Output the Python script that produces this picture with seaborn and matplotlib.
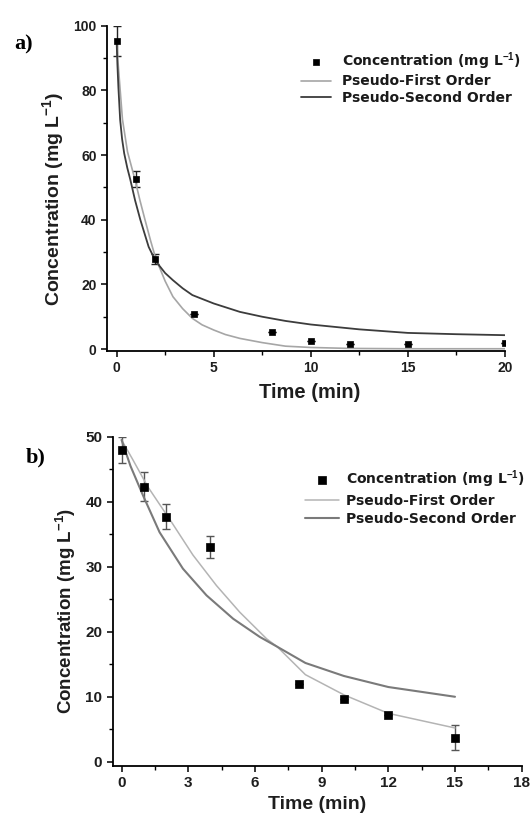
import numpy as np
import pandas as pd
import seaborn as sns
import matplotlib
matplotlib.use("Agg")
import matplotlib.pyplot as plt
from matplotlib import font_manager

# panel a data
t_a = [0, 1, 2, 4, 8, 10, 12, 15, 20]
conc_a = [95.3, 52.5, 27.8, 10.8, 5.3, 2.4, 1.6, 1.6, 1.9]
err_a = [4.6, 2.5, 1.5, 0, 0, 0, 0, 0, 0]

t_pfo_a = [0, 0.08, 0.17, 0.3, 0.56, 0.94, 1.2, 1.46, 1.75, 2.0, 2.5, 2.9, 3.4, 3.9, 4.4,
           5.0, 5.6, 6.35, 7.5, 8.7, 10, 12, 15, 20]
pfo_a = [95, 88, 81, 71, 61, 52.5, 46, 40, 33.5, 28.3, 21, 16.2, 12.5, 9.5, 7.5,
         5.9, 4.5, 3.3, 2.0, 0.9, 0.5, 0.2, 0.1, 0.1]
t_pso_a = [0, 0.04, 0.09, 0.18, 0.28, 0.39, 0.55, 0.7, 0.95, 1.22, 1.45, 1.65, 2.0, 2.5,
           2.9, 3.4, 3.9, 5.0, 6.35, 7.5, 8.7, 10, 12.5, 15, 17.5, 20]
pso_a = [95, 88, 81, 71, 65, 60.5, 56, 52.5, 46, 40, 35.5, 31.6, 27.3, 23.5,
         21.3, 18.8, 16.7, 14.1, 11.5, 10.0, 8.7, 7.6, 6.1, 5.0, 4.6, 4.3]

# panel b data
t_b = [0, 1, 2, 4, 8, 10, 12, 15]
conc_b = [48.0, 42.3, 37.7, 33.0, 12.0, 9.6, 7.2, 3.7]
err_b = [2.0, 2.2, 1.9, 1.7, 0, 0, 0, 1.9]

t_pfo_b = [0, 0.5, 1.18, 2.24, 3.21, 4.27, 5.32, 6.53, 7.0, 8.27, 10, 12, 15]
pfo_b = [49.5, 46.5, 42.3, 36.9, 31.8, 27.1, 23.0, 18.9, 17.7, 13.4, 10.3, 7.45, 5.2]
t_pso_b = [0, 0.4, 0.96, 1.71, 2.76, 3.82, 5.02, 6.22, 7.0, 8.27, 10, 12, 15]
pso_b = [49.5, 45.5, 41.0, 35.3, 29.7, 25.6, 22.0, 19.2, 17.7, 15.2, 13.2, 11.5, 10.0]

lbl_pts = "Concentration (mg L$^{-1}$)"
lbl_pfo = "Pseudo-First Order"
lbl_pso = "Pseudo-Second Order"

sns.set_theme(style="ticks")
names = {f.name for f in font_manager.fontManager.ttflist}
sans = "Liberation Sans Narrow" if "Liberation Sans Narrow" in names else "Liberation Sans"
plt.rcParams["font.family"] = [sans, "DejaVu Sans"]
plt.rcParams["mathtext.fontset"] = "custom"
plt.rcParams["mathtext.rm"] = sans
plt.rcParams["mathtext.bf"] = sans + ":bold"
plt.rcParams["mathtext.default"] = "bf"

txt = "#1e1e1e"

fig = plt.figure(figsize=(5.32, 8.15), dpi=100)
ax1 = fig.add_axes([0.201, 0.5697, 0.748, 0.3988])
ax2 = fig.add_axes([0.2118, 0.0605, 0.7688, 0.4037])


def draw(ax, t, c, err, tf, f, ts, s, cf, cs, lwf, lws, ms, ecol):
    ax.errorbar(t, c, yerr=err, fmt="none", ecolor=ecol, elinewidth=1.0,
                capsize=3.2, capthick=1.0, zorder=2)
    sns.lineplot(x=tf, y=f, ax=ax, color=cf, lw=lwf, label=lbl_pfo, zorder=3)
    sns.lineplot(x=ts, y=s, ax=ax, color=cs, lw=lws, label=lbl_pso, zorder=3)
    sns.scatterplot(x=t, y=c, ax=ax, marker="s", s=ms, color="black",
                    edgecolor="black", linewidth=0.5, label=lbl_pts, zorder=4)
    sns.despine(ax=ax)
    for sp in ["left", "bottom"]:
        ax.spines[sp].set_linewidth(1.3)
        ax.spines[sp].set_color("black")


draw(ax1, t_a, conc_a, err_a, t_pfo_a, pfo_a, t_pso_a, pso_a,
     "#a6a6a6", "#3c3c3c", 1.2, 1.3, 24, "#222222")
draw(ax2, t_b, conc_b, err_b, t_pfo_b, pfo_b, t_pso_b, pso_b,
     "#b4b4b4", "#7a7a7a", 1.1, 1.5, 28, "#555555")

# axes a
ax1.set_xlim(-0.5, 20)
ax1.set_ylim(-0.5, 100)
ax1.set_xticks([0, 5, 10, 15, 20])
ax1.set_xticks(np.arange(2.5, 20, 5), minor=True)
ax1.set_yticks([0, 20, 40, 60, 80, 100])
ax1.set_yticks(np.arange(10, 100, 20), minor=True)

# axes b
ax2.set_xlim(-0.4, 18)
ax2.set_ylim(-0.6, 50)
ax2.set_xticks([0, 3, 6, 9, 12, 15, 18])
ax2.set_xticks(np.arange(1.5, 18, 3), minor=True)
ax2.set_yticks([0, 10, 20, 30, 40, 50])
ax2.set_yticks(np.arange(5, 50, 10), minor=True)

for ax, fs in [(ax1, 10), (ax2, 11)]:
    ax.tick_params(which="major", direction="out", length=4.5, width=1.1,
                   pad=3, colors="black", labelcolor=txt, labelsize=fs)
    ax.tick_params(which="minor", direction="out", length=3, width=1.0,
                   colors="black")
    for lab in ax.get_xticklabels() + ax.get_yticklabels():
        lab.set_fontweight("bold")

ax1.set_xlabel("Time (min)", fontsize=14.5, fontweight="bold", color=txt)
ax1.set_ylabel(lbl_pts, fontsize=14, fontweight="bold", color=txt)
ax1.xaxis.set_label_coords(0.51, -0.098)
ax1.yaxis.set_label_coords(-0.104, 0.467)

ax2.set_xlabel("Time (min)", fontsize=14, fontweight="bold", color=txt)
ax2.set_ylabel(lbl_pts, fontsize=13.5, fontweight="bold", color=txt)
ax2.xaxis.set_label_coords(0.5, -0.093)
ax2.yaxis.set_label_coords(-0.085, 0.47)


def legend(ax, x, y, hl, pad, sp):
    h, l = ax.get_legend_handles_labels()
    order = [l.index(lbl_pts), l.index(lbl_pfo), l.index(lbl_pso)]
    ax.legend([h[i] for i in order], [l[i] for i in order], loc="upper left",
              bbox_to_anchor=(x, y), frameon=False, borderpad=0,
              borderaxespad=0, handlelength=hl, handletextpad=pad,
              labelspacing=sp, prop={"family": "DejaVu Sans", "weight": "bold",
                                     "size": 10}, labelcolor="#1a1a1a")


legend(ax1, 0.487, 0.925, 2.2, 0.75, 0.2)
legend(ax2, 0.47, 0.905, 2.45, 0.5, 0.3)

fig.text(24 / 532, 1 - 44 / 815, "a)", family="Liberation Serif", fontsize=16,
         fontweight="bold", ha="center", va="center", color="black")
fig.text(36 / 532, 1 - 457 / 815, "b)", family="Liberation Serif", fontsize=16,
         fontweight="bold", ha="center", va="center", color="black")

fig.savefig("out.png", dpi=100)
